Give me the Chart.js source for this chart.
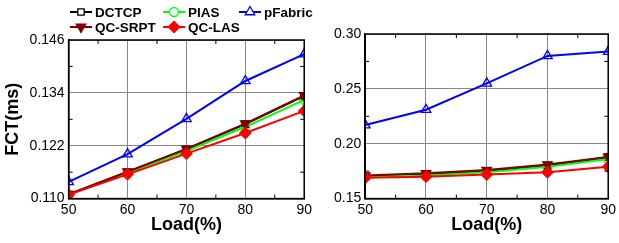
<!DOCTYPE html>
<html>
<head>
<meta charset="utf-8">
<script src="https://cdn.jsdelivr.net/npm/chart.js@4.4.0/dist/chart.umd.min.js"></script>
<style>
  body { margin: 0; background: #fff; }
  #wrap { position: relative; width: 619px; height: 243px; }
  .box { position: absolute; top: 0; height: 243px; }
</style>
</head>
<body>
<div id="wrap">
  <div class="box" style="left:0;width:315px"><canvas id="left"></canvas></div>
  <div class="box" style="left:315px;width:304px"><canvas id="right"></canvas></div>
</div>
<script>
// loads on the x axis
var loads = [50, 60, 70, 80, 90];

// left panel, FCT in ms
var dctcpA   = [0.1109, 0.1160, 0.1212, 0.1269, 0.1333];
var piasA    = [0.1109, 0.1158, 0.1208, 0.1263, 0.1324];
var pfabricA = [0.1138, 0.1201, 0.1281, 0.1367, 0.1428];
var srptA    = [0.1110, 0.1161, 0.1213, 0.1270, 0.1334];
var lasA     = [0.1109, 0.1155, 0.1202, 0.1249, 0.1299];

// right panel, FCT in ms
var dctcpB   = [0.170, 0.172, 0.175, 0.180, 0.188];
var piasB    = [0.170, 0.171, 0.174, 0.179, 0.186];
var pfabricB = [0.217, 0.231, 0.255, 0.280, 0.284];
var srptB    = [0.171, 0.173, 0.176, 0.181, 0.188];
var lasB     = [0.169, 0.170, 0.172, 0.174, 0.179];

// drawing order: lower "order" ends up on top
var series = [
  { label: 'pFabric', color: '#0000ff', style: 'triangle', rot: 0,   fill: false, r: 5.5, order: 4 },
  { label: 'DCTCP',   color: '#000000', style: 'rect',     rot: 0,   fill: false, r: 4.5, order: 3 },
  { label: 'PIAS',    color: '#00ff00', style: 'circle',   rot: 0,   fill: false, r: 4.5, order: 2 },
  { label: 'QC-SRPT', color: '#800000', style: 'triangle', rot: 180, fill: true,  r: 5.5, order: 1 },
  { label: 'QC-LAS',  color: '#ff0000', style: 'rectRot',  rot: 0,   fill: true,  r: 5.5, order: 0 }
];

function pts(arr) {
  return arr.map(function (v, i) { return { x: loads[i], y: v }; });
}

function makeSets(values) {
  return series.map(function (s, i) {
    return {
      label: s.label,
      data: pts(values[i]),
      order: s.order,
      borderColor: s.color,
      backgroundColor: s.fill ? s.color : 'rgba(255,255,255,0)',
      borderWidth: 2,
      pointStyle: s.style,
      pointRotation: s.rot,
      pointRadius: s.r,
      pointBorderWidth: 1.3,
      tension: 0
    };
  });
}

var font = "'Liberation Sans', Arial, sans-serif";

// frame, minor ticks
var framePlugin = {
  id: 'frame',
  afterDraw: function (chart) {
    var a = chart.chartArea, ctx = chart.ctx;
    var xs = chart.scales.x, ys = chart.scales.y;
    ctx.save();
    ctx.strokeStyle = '#000';
    ctx.lineWidth = 1.5;
    ctx.strokeRect(a.left, a.top, a.right - a.left, a.bottom - a.top);
    ctx.lineWidth = 1;
    var xm = chart.options.minorX, ym = chart.options.minorY;
    xm.forEach(function (v) {
      var px = xs.getPixelForValue(v);
      ctx.beginPath();
      ctx.moveTo(px, a.bottom); ctx.lineTo(px, a.bottom - 4);
      ctx.moveTo(px, a.top); ctx.lineTo(px, a.top + 4);
      ctx.stroke();
    });
    ym.forEach(function (v) {
      var py = ys.getPixelForValue(v);
      ctx.beginPath();
      ctx.moveTo(a.left, py); ctx.lineTo(a.left + 4, py);
      ctx.moveTo(a.right, py); ctx.lineTo(a.right - 4, py);
      ctx.stroke();
    });
    ctx.restore();
  }
};

// legend in two rows, drawn on the left chart
var legendOrder = [
  ['DCTCP', 70, 12], ['PIAS', 163, 12], ['pFabric', 239, 12],
  ['QC-SRPT', 70, 27], ['QC-LAS', 163, 27]
];
var legendPlugin = {
  id: 'grid-legend',
  afterDraw: function (chart) {
    if (!chart.options.showLegend) return;
    var ctx = chart.ctx;
    ctx.save();
    ctx.font = 'bold 13.5px ' + font;
    ctx.textBaseline = 'middle';
    legendOrder.forEach(function (it) {
      var s = series.filter(function (q) { return q.label === it[0]; })[0];
      var x = it[1], y = it[2];
      ctx.strokeStyle = s.color;
      ctx.lineWidth = 2;
      ctx.beginPath();
      ctx.moveTo(x, y); ctx.lineTo(x + 22, y);
      ctx.stroke();
      ctx.fillStyle = s.fill ? s.color : '#fff';
      ctx.lineWidth = 1.3;
      Chart.helpers.drawPoint(ctx, { pointStyle: s.style, radius: s.r, rotation: s.rot, borderWidth: 1.3 }, x + 11, y);
      ctx.fillStyle = '#000';
      ctx.fillText(s.label, x + 25, y + 1);
    });
    ctx.restore();
  }
};

function makeChart(id, values, yMin, yMax, yStep, digits, minorY, showY, pad, legend) {
  return new Chart(document.getElementById(id), {
    type: 'line',
    data: { datasets: makeSets(values) },
    plugins: [framePlugin, legendPlugin],
    options: {
      responsive: true,
      maintainAspectRatio: false,
      animation: false,
      showLegend: legend,
      minorX: [55, 65, 75, 85],
      minorY: minorY,
      layout: { padding: pad },
      plugins: { legend: { display: false }, tooltip: { enabled: false } },
      scales: {
        x: {
          type: 'linear', min: 50, max: 90,
          ticks: { stepSize: 10, color: '#000', font: { family: font, size: 14 }, padding: 3 },
          grid: { color: '#888', lineWidth: 1, drawTicks: false },
          border: { color: '#000', width: 1.5 },
          title: { display: true, text: 'Load(%)', color: '#000', font: { family: font, size: 18, weight: 'bold' }, padding: { top: -7, bottom: 0 } }
        },
        y: {
          min: yMin, max: yMax,
          ticks: {
            stepSize: yStep, color: '#000', font: { family: font, size: 14 }, padding: 4,
            callback: function (v) { return v.toFixed(digits); }
          },
          grid: { color: '#888', lineWidth: 1, drawTicks: false },
          border: { color: '#000', width: 1.5 },
          title: { display: showY, text: 'FCT(ms)', color: '#000', font: { family: font, size: 18, weight: 'bold' }, padding: 2 }
        }
      }
    }
  });
}

makeChart('left', [pfabricA, dctcpA, piasA, srptA, lasA], 0.110, 0.146, 0.012, 3,
  [0.116, 0.128, 0.140], true, { top: 40, right: 8, bottom: 7, left: 0 }, true);
makeChart('right', [pfabricB, dctcpB, piasB, srptB, lasB], 0.15, 0.30, 0.05, 2,
  [0.175, 0.225, 0.275], false, { top: 34, right: 8, bottom: 7, left: 15 }, false);
</script>
</body>
</html>
